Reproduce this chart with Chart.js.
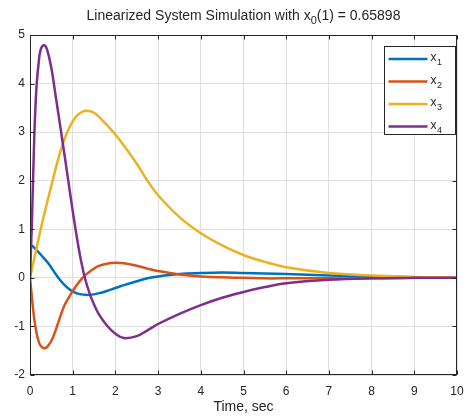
<!DOCTYPE html>
<html>
<head>
<meta charset="utf-8">
<script src="https://cdn.jsdelivr.net/npm/chart.js@4.4.0/dist/chart.umd.min.js"></script>
<style>
  html, body { margin: 0; padding: 0; background: #fff; }
</style>
</head>
<body>
<canvas id="chart-1" width="468" height="417"></canvas>
<script>
const time = [0, 0.05, 0.1, 0.15, 0.2, 0.25, 0.33, 0.4, 0.5, 0.6, 0.7, 0.8, 0.9, 1.0, 1.1, 1.2, 1.3, 1.4, 1.5, 1.6, 1.8, 2.0, 2.2, 2.5, 2.75, 3, 3.5, 4, 4.5, 5, 5.5, 6, 7, 8, 9, 10];
const x1 = [0.68, 0.66, 0.62, 0.57, 0.53, 0.48, 0.4, 0.33, 0.21, 0.08, -0.04, -0.14, -0.22, -0.28, -0.32, -0.34, -0.35, -0.35, -0.34, -0.32, -0.27, -0.21, -0.15, -0.07, -0.01, 0.03, 0.08, 0.1, 0.11, 0.1, 0.09, 0.08, 0.05, 0.03, 0.015, 0.01];
const x2 = [0, -0.45, -0.85, -1.12, -1.3, -1.4, -1.45, -1.42, -1.3, -1.08, -0.82, -0.58, -0.42, -0.27, -0.14, -0.03, 0.06, 0.13, 0.19, 0.24, 0.29, 0.31, 0.3, 0.25, 0.19, 0.14, 0.07, 0.03, 0.01, 0, -0.01, -0.01, -0.01, -0.01, 0, 0];
const x3 = [0, 0.2, 0.4, 0.6, 0.8, 1.0, 1.3, 1.55, 1.9, 2.25, 2.57, 2.84, 3.05, 3.22, 3.34, 3.41, 3.44, 3.43, 3.4, 3.33, 3.15, 2.95, 2.72, 2.35, 2.0, 1.7, 1.25, 0.92, 0.67, 0.47, 0.33, 0.22, 0.1, 0.05, 0.02, 0.01];
const x4 = [0, 1.3, 2.9, 3.9, 4.4, 4.7, 4.79, 4.7, 4.32, 3.75, 3.17, 2.58, 1.98, 1.38, 0.82, 0.33, -0.05, -0.33, -0.55, -0.73, -0.98, -1.15, -1.24, -1.2, -1.08, -0.95, -0.74, -0.56, -0.41, -0.29, -0.19, -0.11, -0.04, -0.01, 0, 0];
const names = ['1', '2', '3', '4'];
const colors = ['#0072BD', '#D95319', '#EDB120', '#7E2F8E'];
const xMin = 0, xMax = 10, yMin = -2, yMax = 5;

const series = [x1, x2, x3, x4];
const textColor = '#262626';
const fontFam = '"Liberation Sans", Arial, sans-serif';

// MATLAB-like box, inner ticks, title and legend
const decor = {
  id: 'decor',
  afterDraw(chart) {
    const { ctx, chartArea: a, scales } = chart;
    const L = Math.round(a.left) + 0.5, R = Math.round(a.right) - 0.5;
    const T = Math.round(a.top) + 0.5, B = Math.round(a.bottom) - 0.5;
    ctx.save();
    ctx.strokeStyle = textColor;
    ctx.lineWidth = 1;
    ctx.strokeRect(L, T, R - L, B - T);
    ctx.beginPath();
    scales.x.ticks.forEach(t => {
      const p = Math.round(scales.x.getPixelForValue(t.value)) + 0.5;
      ctx.moveTo(p, B); ctx.lineTo(p, B - 4);
      ctx.moveTo(p, T); ctx.lineTo(p, T + 4);
    });
    scales.y.ticks.forEach(t => {
      const p = Math.round(scales.y.getPixelForValue(t.value)) + 0.5;
      ctx.moveTo(L, p); ctx.lineTo(L + 4, p);
      ctx.moveTo(R, p); ctx.lineTo(R - 4, p);
    });
    ctx.stroke();

    // title with subscript
    ctx.fillStyle = textColor;
    ctx.textBaseline = 'middle';
    ctx.textAlign = 'left';
    const big = '14px ' + fontFam, small = '11px ' + fontFam;
    const p1 = 'Linearized System Simulation with x', p2 = '0', p3 = '(1) = 0.65898';
    ctx.font = big; const w1 = ctx.measureText(p1).width, w3 = ctx.measureText(p3).width;
    ctx.font = small; const w2 = ctx.measureText(p2).width;
    let tx = (a.left + a.right) / 2 - (w1 + w2 + w3) / 2;
    const ty = 16;
    ctx.font = big; ctx.fillText(p1, tx, ty); tx += w1;
    ctx.font = small; ctx.fillText(p2, tx, ty + 5); tx += w2;
    ctx.font = big; ctx.fillText(p3, tx, ty);

    // legend
    const bw = 71, bh = 88;
    const bx = Math.round(a.right) - 2 - bw + 0.5, by = Math.round(a.top) + 11 + 0.5;
    ctx.fillStyle = '#fff';
    ctx.fillRect(bx, by, bw, bh);
    ctx.strokeStyle = textColor;
    ctx.strokeRect(bx, by, bw, bh);
    chart.data.datasets.forEach((ds, i) => {
      const ry = by + 12.5 + i * 22.5;
      ctx.strokeStyle = ds.borderColor;
      ctx.lineWidth = 2.5;
      ctx.beginPath();
      ctx.moveTo(bx + 4, ry); ctx.lineTo(bx + 43, ry);
      ctx.stroke();
      ctx.fillStyle = textColor;
      ctx.font = '12px ' + fontFam;
      ctx.fillText('x', bx + 46, ry - 1);
      const xw = ctx.measureText('x').width;
      ctx.font = '9px ' + fontFam;
      ctx.fillText(names[i], bx + 46 + xw + 0.5, ry + 4);
    });
    ctx.restore();
  }
};

new Chart(document.getElementById('chart-1'), {
  type: 'line',
  data: {
    datasets: series.map((s, i) => ({
      label: 'x' + names[i],
      data: time.map((t, j) => ({ x: t, y: s[j] })),
      borderColor: colors[i],
      borderWidth: 2.5,
      pointRadius: 0,
      tension: 0.4,
      order: 3 - i
    }))
  },
  options: {
    responsive: false,
    animation: false,
    devicePixelRatio: 1,
    layout: { padding: { top: 35, right: 11, left: 0, bottom: 0 } },
    plugins: { legend: { display: false }, tooltip: { enabled: false }, title: { display: false } },
    scales: {
      x: {
        type: 'linear', min: xMin, max: xMax,
        ticks: { stepSize: 1, color: textColor, font: { size: 12, family: fontFam }, padding: 9, maxRotation: 0 },
        grid: { color: '#dfdfdf', drawTicks: false },
        border: { display: false },
        title: { display: true, text: 'Time, sec', color: textColor, font: { size: 14, family: fontFam }, padding: { top: 0, bottom: 1 } },
        afterFit: s => { s.height = 42; s.paddingLeft = 0; s.paddingRight = 0; }
      },
      y: {
        min: yMin, max: yMax,
        ticks: { stepSize: 1, color: textColor, font: { size: 12, family: fontFam }, padding: 5 },
        grid: { color: '#dfdfdf', drawTicks: false },
        border: { display: false },
        afterFit: s => { s.width = 30; }
      }
    }
  },
  plugins: [decor]
});
</script>
</body>
</html>
